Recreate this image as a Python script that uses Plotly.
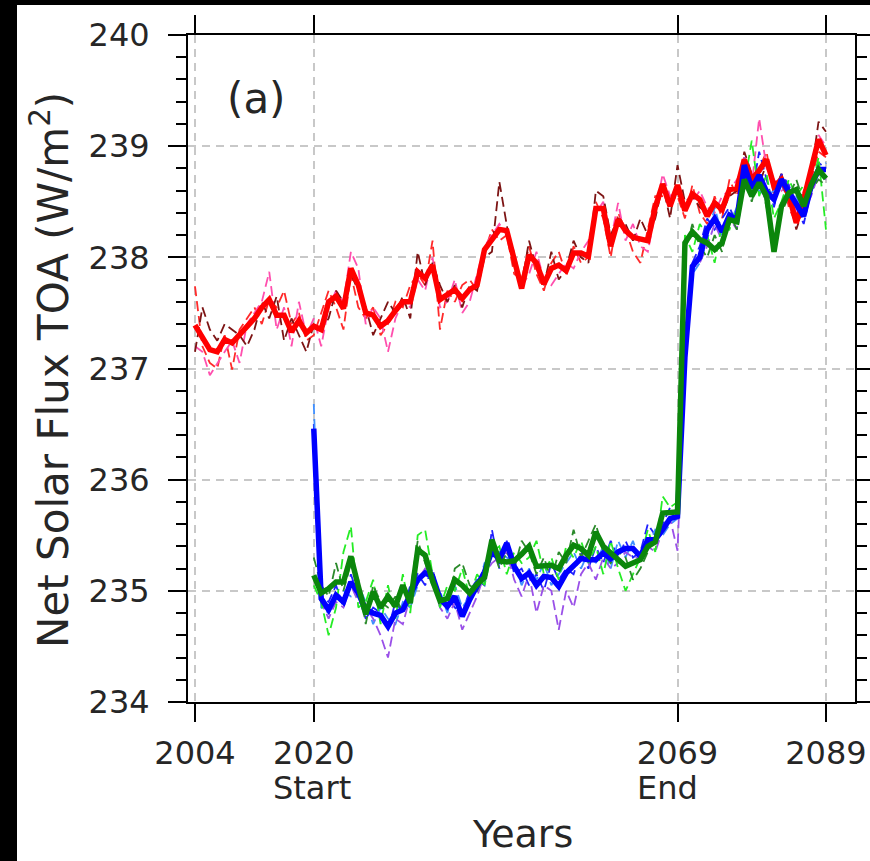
import plotly.graph_objects as go

# Annual net solar flux at TOA (W/m^2)
years_ctrl = list(range(2004, 2090))
years_exp = list(range(2020, 2090))

ctrl_mean = [237.39, 237.27, 237.17, 237.15, 237.26, 237.23, 237.30, 237.38, 237.45, 237.55,
             237.62, 237.48, 237.48, 237.33, 237.43, 237.32, 237.38, 237.35, 237.60, 237.65,
             237.54, 237.90, 237.75, 237.50, 237.48, 237.38, 237.43, 237.52, 237.60, 237.60,
             237.87, 237.81, 237.93, 237.62, 237.66, 237.71, 237.63, 237.71, 237.75, 238.07,
             238.16, 238.25, 238.24, 238.00, 237.72, 238.02, 237.95, 237.76, 237.90, 237.93,
             237.88, 238.04, 238.04, 238.01, 238.44, 238.44, 238.10, 238.34, 238.24, 238.18,
             238.17, 238.15, 238.45, 238.66, 238.46, 238.65, 238.42, 238.57, 238.52, 238.37,
             238.49, 238.43, 238.61, 238.62, 238.88, 238.70, 238.78, 238.88, 238.64, 238.70,
             238.56, 238.31, 238.52, 238.77, 239.06, 238.92]

ctrl_m1 = [237.74, 237.20, 237.05, 237.00, 237.30, 236.99, 237.35, 237.45, 237.55, 237.40,
           237.62, 237.55, 237.70, 237.40, 237.50, 237.25, 237.30, 237.50, 237.70, 237.55,
           237.35, 237.85, 237.55, 237.45, 237.55, 237.30, 237.40, 237.60, 237.55, 237.75,
           237.85, 237.75, 238.15, 237.35, 237.70, 237.60, 237.75, 237.80, 237.70, 238.05,
           238.25, 238.15, 238.20, 237.85, 237.80, 238.10, 237.85, 237.70, 237.95, 238.05,
           237.85, 238.10, 237.95, 238.00, 238.50, 238.35, 238.00, 238.40, 238.25, 238.05,
           237.95, 238.25, 238.55, 238.55, 238.50, 238.55, 238.35, 238.65, 238.40, 238.30,
           238.55, 238.35, 238.70, 238.55, 238.90, 238.65, 238.80, 238.95, 238.55, 238.75,
           238.45, 238.30, 238.60, 238.70, 238.95, 238.90]

ctrl_m2 = [237.20, 237.15, 236.94, 237.05, 237.15, 237.25, 237.05, 237.40, 237.50, 237.60,
           237.87, 237.35, 237.55, 237.20, 237.60, 237.30, 237.45, 237.20, 237.55, 237.70,
           237.60, 238.05, 237.90, 237.40, 237.55, 237.45, 237.15, 237.45, 237.60, 237.55,
           237.80, 237.70, 238.00, 237.55, 237.60, 237.80, 237.50, 237.60, 237.85, 238.10,
           238.20, 238.30, 238.20, 238.05, 237.74, 237.85, 238.05, 237.80, 237.75, 237.85,
           237.95, 237.90, 238.05, 238.15, 238.40, 238.50, 238.15, 238.49, 238.15, 238.30,
           238.10, 238.05, 238.40, 238.75, 238.55, 238.60, 238.45, 238.50, 238.60, 238.45,
           238.40, 238.55, 238.60, 238.70, 238.80, 238.65, 239.25, 238.80, 238.70, 238.60,
           238.65, 238.40, 238.50, 238.85, 239.10, 239.00]

ctrl_m3 = [237.15, 237.55, 237.35, 237.25, 237.40, 237.35, 237.30, 237.20, 237.35, 237.60,
           237.45, 237.65, 237.25, 237.45, 237.30, 237.15, 237.40, 237.35, 237.45, 237.70,
           237.60, 237.85, 237.70, 237.55, 237.30, 237.45, 237.60, 237.50, 237.65, 237.45,
           238.05, 237.75, 237.95, 237.75, 237.60, 237.75, 237.55, 237.75, 237.70, 238.00,
           238.05, 238.68, 238.30, 237.90, 237.75, 238.15, 237.90, 237.75, 238.05, 237.80,
           237.90, 238.15, 238.00, 237.95, 238.60, 238.55, 238.20, 238.35, 238.30, 238.15,
           238.35, 238.20, 238.35, 238.65, 238.35, 238.83, 238.50, 238.55, 238.45, 238.40,
           238.50, 238.40, 238.55, 238.60, 238.95, 238.75, 238.65, 238.85, 238.60, 238.75,
           238.55, 238.25, 238.45, 238.75, 239.22, 239.13]

blue_mean = [236.46, 234.93, 234.83, 234.96, 234.90, 235.08, 234.98, 234.83, 234.80, 234.78,
             234.68, 234.80, 234.83, 234.96, 235.10, 235.16, 235.13, 234.93, 234.86, 234.95,
             234.77, 234.92, 235.04, 235.17, 235.36, 235.28, 235.43, 235.22, 235.11, 235.16,
             235.05, 235.13, 235.12, 235.04, 235.16, 235.23, 235.29, 235.28, 235.28, 235.34,
             235.29, 235.35, 235.38, 235.38, 235.31, 235.46, 235.46, 235.55, 235.65, 235.67,
             237.10, 237.92, 238.00, 238.25, 238.35, 238.23, 238.38, 238.34, 238.83, 238.62,
             238.74, 238.59, 238.52, 238.70, 238.59, 238.49, 238.37, 238.64, 238.79, 238.79]

blue_m1 = [236.50, 234.95, 234.90, 235.05, 234.85, 235.15, 234.95, 234.75, 234.85, 234.80,
           234.65, 234.90, 234.80, 235.05, 235.15, 235.05, 235.20, 234.90, 234.95, 234.85,
           234.80, 235.00, 235.10, 235.05, 235.55, 235.20, 235.45, 235.15, 235.20, 235.05,
           235.15, 235.00, 235.25, 235.10, 235.20, 235.15, 235.35, 235.20, 235.40, 235.25,
           235.45, 235.30, 235.45, 235.30, 235.35, 235.60, 235.50, 235.60, 235.75, 235.70,
           237.20, 237.95, 238.10, 238.35, 238.25, 238.35, 238.45, 238.30, 238.85, 238.55,
           238.95, 238.70, 238.45, 238.75, 238.65, 238.45, 238.30, 238.60, 238.85, 238.80]

blue_m2 = [236.68, 234.85, 234.80, 234.95, 235.00, 234.95, 235.05, 234.90, 234.70, 234.85,
           234.75, 234.70, 234.90, 234.85, 235.05, 235.20, 235.05, 235.00, 234.80, 235.05,
           234.85, 234.95, 235.00, 235.25, 235.30, 235.35, 235.30, 235.25, 235.05, 235.20,
           235.10, 235.25, 235.05, 235.15, 235.25, 235.35, 235.20, 235.35, 235.25, 235.40,
           235.20, 235.45, 235.30, 235.45, 235.25, 235.40, 235.55, 235.50, 235.60, 235.65,
           237.00, 237.85, 237.95, 238.15, 238.45, 238.20, 238.30, 238.45, 238.75, 238.65,
           238.60, 238.55, 238.60, 238.65, 238.50, 238.55, 238.40, 238.70, 238.75, 238.85]

blue_m3 = [236.40, 234.90, 234.75, 234.90, 234.85, 235.05, 234.90, 234.85, 234.75, 234.60,
           234.40, 234.75, 234.70, 234.95, 235.10, 235.20, 235.10, 234.85, 234.75, 234.90,
           234.65, 234.80, 234.95, 235.15, 235.25, 235.30, 235.35, 235.10, 234.95, 235.15,
           234.80, 235.05, 235.00, 234.65, 235.00, 234.85, 235.15, 235.25, 235.10, 235.30,
           235.20, 235.25, 235.35, 235.30, 235.30, 235.40, 235.35, 235.55, 235.65, 235.36,
           237.05, 237.90, 237.95, 238.10, 238.30, 238.15, 238.35, 238.25, 238.90, 238.70,
           238.65, 238.50, 238.55, 238.70, 238.60, 238.45, 238.40, 238.55, 238.75, 238.70]

green_mean = [235.14, 234.98, 235.02, 235.08, 235.08, 235.31, 235.04, 234.79, 234.99, 234.85,
              234.95, 234.86, 235.05, 234.89, 235.37, 235.32, 235.09, 234.91, 234.93, 235.10,
              235.05, 234.98, 235.06, 235.12, 235.46, 235.27, 235.26, 235.27, 235.33, 235.40,
              235.22, 235.22, 235.23, 235.20, 235.32, 235.41, 235.38, 235.32, 235.53, 235.40,
              235.34, 235.29, 235.22, 235.25, 235.28, 235.40, 235.44, 235.70, 235.70, 235.71,
              238.13, 238.23, 238.16, 238.13, 238.07, 238.13, 238.34, 238.32, 238.70, 238.55,
              238.67, 238.55, 238.05, 238.46, 238.58, 238.61, 238.46, 238.65, 238.79, 238.71]

green_m1 = [235.05, 234.90, 234.60, 234.85, 235.35, 235.58, 234.85, 234.90, 235.10, 234.70,
            235.05, 234.75, 235.15, 234.80, 235.50, 235.55, 235.15, 234.85, 235.05, 235.00,
            235.20, 234.95, 235.15, 235.05, 235.35, 235.40, 235.15, 235.35, 235.25, 235.30,
            235.45, 235.15, 235.30, 235.10, 235.40, 235.30, 235.45, 235.25, 235.40, 235.15,
            235.45, 235.20, 235.00, 235.15, 235.30, 235.55, 235.35, 235.85, 235.75, 235.80,
            238.20, 238.05, 238.30, 238.20, 237.95, 238.30, 238.25, 238.45, 238.65, 239.05,
            238.55, 238.75, 238.35, 238.50, 238.70, 238.55, 238.65, 238.60, 238.90, 238.25]

green_m2 = [235.30, 235.05, 234.95, 235.25, 235.00, 235.25, 235.10, 234.70, 235.05, 234.90,
            234.85, 234.95, 234.80, 235.00, 235.45, 235.25, 235.05, 234.95, 234.85, 235.20,
            235.25, 235.05, 235.00, 235.15, 235.40, 235.20, 235.35, 235.20, 235.45, 235.35,
            235.15, 235.30, 235.10, 235.35, 235.25, 235.55, 235.30, 235.45, 235.60, 235.35,
            235.25, 235.35, 235.30, 235.10, 235.20, 235.35, 235.50, 235.60, 235.65, 235.70,
            238.05, 238.30, 238.10, 238.00, 238.20, 238.05, 238.40, 238.25, 238.75, 238.50,
            238.75, 238.45, 238.15, 238.40, 238.55, 238.70, 238.50, 238.60, 238.70, 238.65]

x_tick_years = [2004, 2020, 2069, 2089]
x_tick_text = ["2004", "2020", "2069", "2089"]

FONT = "DejaVu Sans"
TEXT = "#262626"
DASH = "10px,5px"

members = [
    (years_ctrl, ctrl_m1, "#ff2a2a"),
    (years_ctrl, ctrl_m2, "#ff4fae"),
    (years_ctrl, ctrl_m3, "#7d1414"),
    (years_exp, blue_m1, "#1f1fff"),
    (years_exp, blue_m2, "#3f8fff"),
    (years_exp, blue_m3, "#9a50e8"),
    (years_exp, green_m1, "#25ec25"),
    (years_exp, green_m2, "#2b8a2b"),
]
means = [
    (years_ctrl, ctrl_mean, "#ff0000"),
    (years_exp, blue_mean, "#0000ff"),
    (years_exp, green_mean, "#0b860b"),
]

fig = go.Figure()
for xs, ys, col in members:
    fig.add_trace(go.Scatter(x=xs, y=ys, mode="lines",
                             line=dict(color=col, width=1.8, dash=DASH),
                             showlegend=False))
for xs, ys, col in means:
    fig.add_trace(go.Scatter(x=xs, y=ys, mode="lines",
                             line=dict(color=col, width=5.5),
                             showlegend=False))

grid = dict(showgrid=True, gridcolor="#c8c8c8", gridwidth=1.5, griddash="8px,6px")

fig.update_xaxes(
    range=[2003.057, 2092.91], tickmode="array",
    tickvals=x_tick_years, ticktext=x_tick_text,
    ticks="outside", ticklen=18, tickwidth=2, tickcolor="black",
    showline=True, linecolor="black", linewidth=2, mirror="ticks",
    zeroline=False, tickfont=dict(family=FONT, size=32, color=TEXT),
    ticklabelstandoff=4, automargin=False, **grid)

fig.update_yaxes(
    range=[234, 240], tick0=234, dtick=1,
    ticks="outside", ticklen=18, tickwidth=2, tickcolor="black",
    minor=dict(dtick=0.2, ticks="outside", ticklen=10, tickwidth=2,
               tickcolor="black", showgrid=False),
    showline=True, linecolor="black", linewidth=2, mirror="ticks",
    zeroline=False, tickfont=dict(family=FONT, size=32, color=TEXT),
    ticklabelstandoff=12, automargin=False, **grid)

W, H = 870, 861
PW, PH, L, T = 667, 667, 188, 35


def px_x(p):
    return (p - L) / PW


def px_y(p):
    return (T + PH - p) / PH


annotations = [
    dict(text="(a)", x=px_x(256), y=px_y(99), font=dict(size=42)),
    dict(text="Start", x=2020, xref="x", xanchor="left", xshift=-43,
         y=px_y(788), font=dict(size=32)),
    dict(text="End", x=2069, xref="x", xanchor="left", xshift=-43,
         y=px_y(788), font=dict(size=32)),
    dict(text="Years", x=px_x(522), y=px_y(834), font=dict(size=38)),
    dict(text="Net Solar Flux TOA (W/m<sup>2</sup>)", x=px_x(50), y=px_y(370),
         textangle=-90, font=dict(size=42)),
]
for a in annotations:
    a.setdefault("xref", "paper")
    a.setdefault("xanchor", "center")
    a["yref"] = "paper"
    a["yanchor"] = "middle"
    a["showarrow"] = False
    a["font"].update(family=FONT, color=TEXT)
    fig.add_annotation(**a)

# black frame bands along the top and left edges of the page
fig.add_shape(type="rect", xref="paper", yref="paper",
              x0=px_x(-2), x1=px_x(17), y0=px_y(H + 2), y1=px_y(-2),
              fillcolor="black", line_width=0, layer="above")
fig.add_shape(type="rect", xref="paper", yref="paper",
              x0=px_x(-2), x1=px_x(W + 2), y0=px_y(5), y1=px_y(-2),
              fillcolor="black", line_width=0, layer="above")

fig.update_layout(
    width=W, height=H, autosize=False,
    margin=dict(l=L, r=W - L - PW, t=T, b=H - T - PH, autoexpand=False),
    paper_bgcolor="white", plot_bgcolor="white",
    font=dict(family=FONT, color=TEXT),
    showlegend=False,
)

fig.write_html("out.html", config={"responsive": False})
